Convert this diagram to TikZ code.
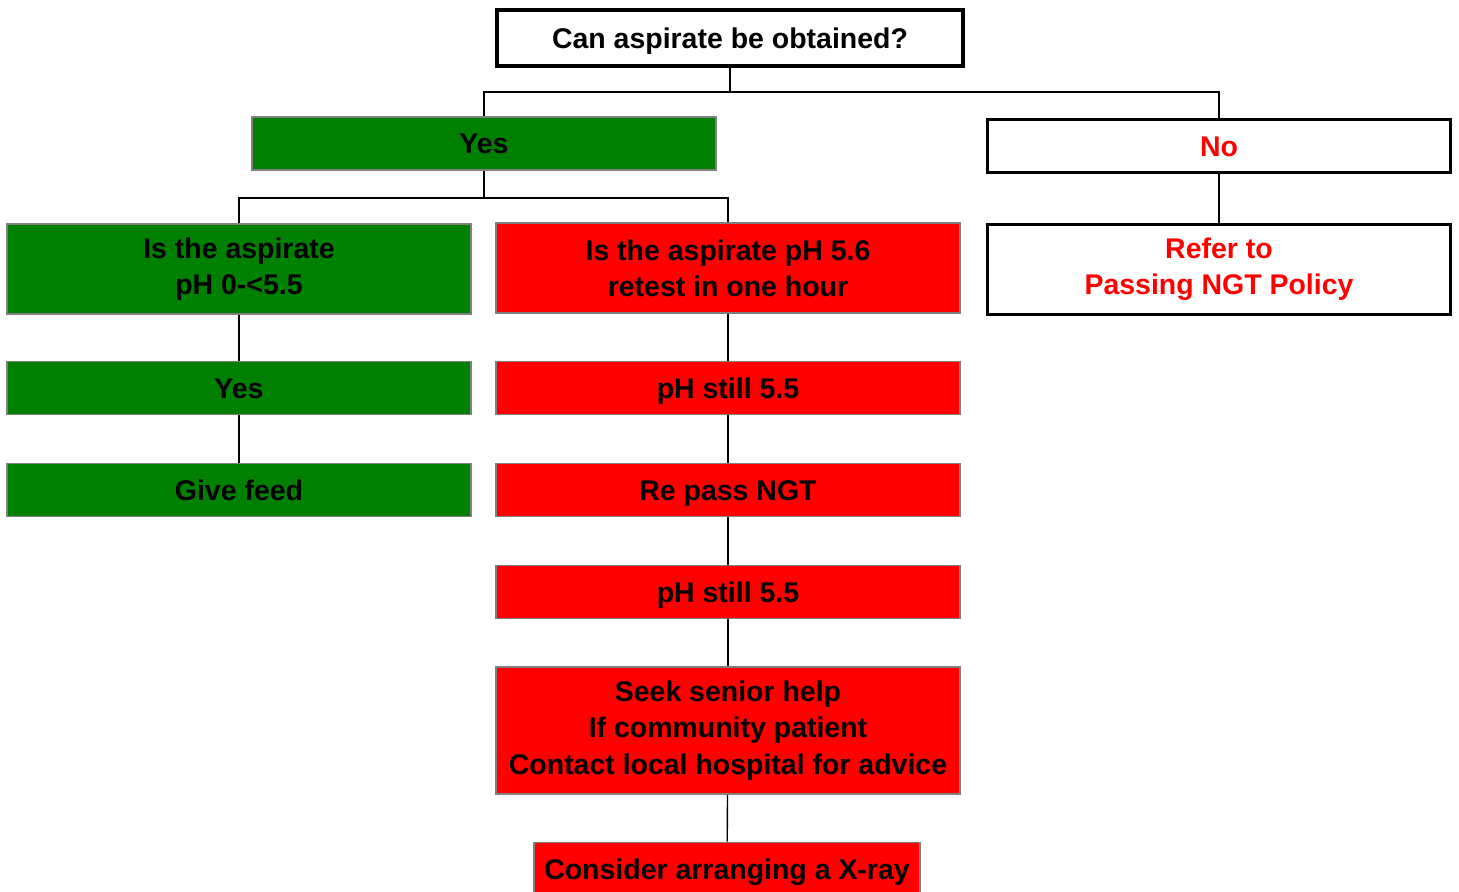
\documentclass[tikz,border=0pt]{standalone}
\usepackage{fontspec}
\setmainfont{Liberation Sans}
\usepackage{tikz}
\definecolor{green}{rgb}{0.0, 0.5, 0.0}
\definecolor{red}{rgb}{1.0, 0.0, 0.0}
\definecolor{grey}{rgb}{0.5, 0.5, 0.5}

\begin{document}
\begin{tikzpicture}[
        box/.style={rectangle,inner sep=0pt,align=center,font=\fontsize{16.2}{20.6}\selectfont\bfseries},
        oneline/.style={text height=11.6pt,text depth=0pt},
        greenbox/.style={box,fill=green,draw=grey,line width=1.1pt,minimum width=9.28cm,minimum height=1.06cm},
        redbox/.style={greenbox,fill=red},
        whitebox/.style={box,draw=black,line width=1.7pt,text=red,minimum width=9.26cm,minimum height=1.06cm},
        link/.style={black,line width=0.8pt}]
        \useasboundingbox (0,0) rectangle (29.18,-17.84);
        \node[box,oneline,draw=black,line width=2.6pt,minimum width=9.32cm,minimum height=1.12cm] (ask) at (14.6,-0.76) {Can aspirate be obtained?};
        \node[greenbox,oneline] (yes)   at (9.68,-2.87)  {Yes};
        \node[whitebox,oneline] (no)    at (24.38,-2.92) {No};
        \node[whitebox,minimum height=1.8cm] (refer) at (24.38,-5.39) {Refer to\\Passing NGT Policy};
        \node[greenbox,minimum height=1.8cm] (acid)  at (4.78,-5.38)  {Is the aspirate\\pH 0-<5.5};
        \node[greenbox,oneline] (yes2)  at (4.78,-7.76)  {Yes};
        \node[greenbox,oneline] (feed)  at (4.78,-9.80)  {Give feed};
        \node[redbox,minimum height=1.8cm] (retest) at (14.56,-5.36) {Is the aspirate pH 5.6\\retest in one hour};
        \node[redbox,oneline] (still)   at (14.56,-7.76)  {pH still 5.5};
        \node[redbox,oneline] (repass)  at (14.56,-9.80)  {Re pass NGT};
        \node[redbox,oneline] (still2)  at (14.56,-11.84) {pH still 5.5};
        \node[redbox,minimum height=2.54cm] (senior) at (14.56,-14.61) {Seek senior help\\If community patient\\Contact local hospital for advice};
        \node[redbox,oneline,minimum width=7.72cm] (xray) at (14.54,-17.38) {Consider arranging a X-ray};
        \coordinate (split1) at (14.6,-1.84);
        \coordinate (split2) at (9.68,-3.96);
        \draw[link] (ask) -- (split1);
        \draw[link] (split1) -| (yes);
        \draw[link] (split1) -| (no);
        \draw[link] (no) -- (refer);
        \draw[link] (yes) -- (split2);
        \draw[link] (split2) -| (acid);
        \draw[link] (split2) -| (retest);
        \draw[link] (acid) -- (yes2);
        \draw[link] (yes2) -- (feed);
        \draw[link] (retest) -- (still);
        \draw[link] (still) -- (repass);
        \draw[link] (repass) -- (still2);
        \draw[link] (still2) -- (senior);
        \draw[link] (senior) -- (xray);
    \end{tikzpicture}
\end{document}
